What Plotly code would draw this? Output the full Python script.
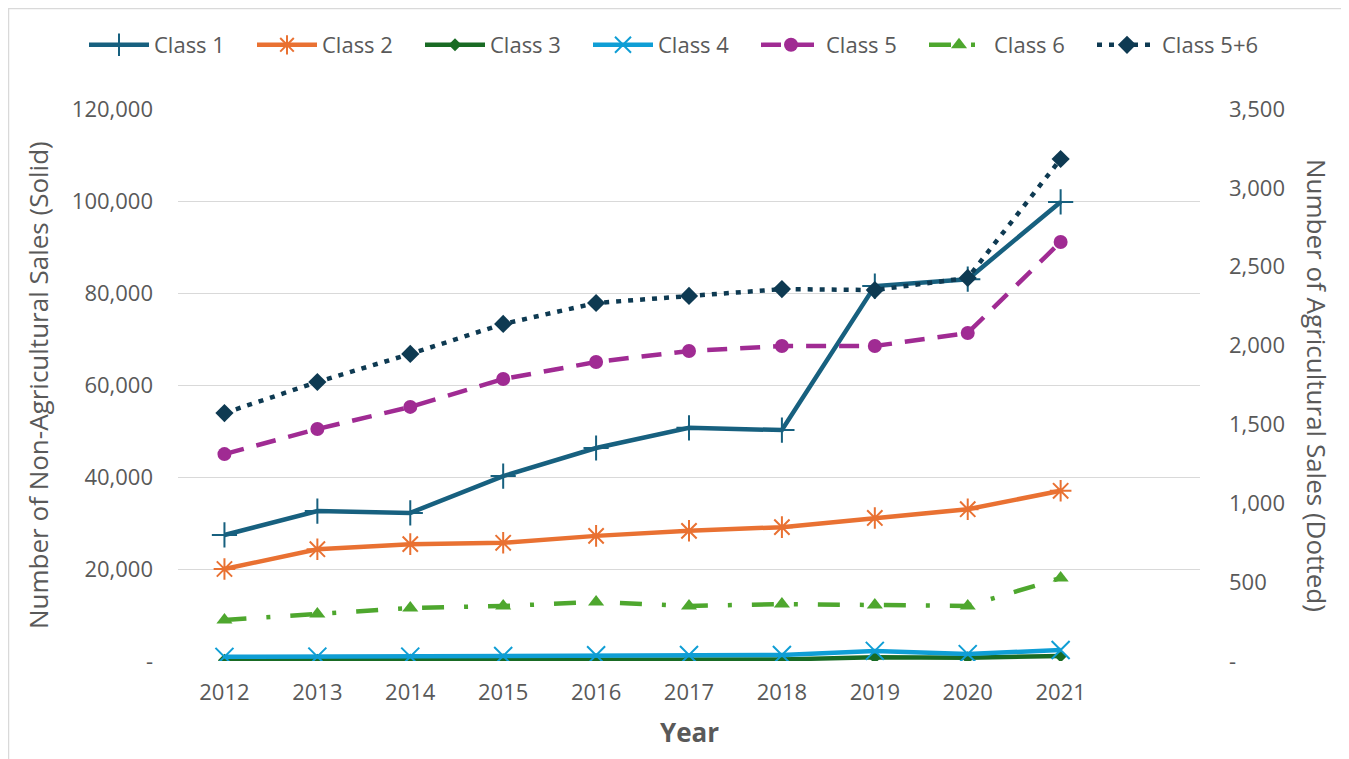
import plotly.graph_objects as go

years = [2012, 2013, 2014, 2015, 2016, 2017, 2018, 2019, 2020, 2021]
class1 = [27400, 32600, 32200, 40200, 46300, 50700, 50200, 81500, 83000, 99800]
class2 = [20000, 24300, 25400, 25700, 27200, 28300, 29100, 31100, 33000, 37000]
class3 = [150, 180, 200, 250, 280, 320, 350, 800, 700, 1100]
class4 = [900, 950, 950, 1100, 1250, 1300, 1300, 2200, 1500, 2400]
class5 = [1312, 1471, 1611, 1788, 1896, 1966, 1997, 1997, 2080, 2657]
class6 = [260, 298, 336, 349, 374, 349, 361, 355, 349, 526]
class56 = [1572, 1769, 1947, 2137, 2270, 2315, 2358, 2352, 2429, 3183]

left_ticks = [0, 20000, 40000, 60000, 80000, 100000, 120000]
left_text = ["-", "20,000", "40,000", "60,000", "80,000", "100,000", "120,000"]
right_ticks = [0, 500, 1000, 1500, 2000, 2500, 3000, 3500]
right_text = ["-", "500", "1,000", "1,500", "2,000", "2,500", "3,000", "3,500"]

FONT = "Open Sans"
GREY = "#595959"
W, H = 1341, 751
L, R, T, B = 170, 149, 101, 98
PW, PH = W - L - R, H - T - B
STEP = 168
X0 = 76

fig = go.Figure()

def add(name, y, color, symbol, size, dash="solid", yaxis="y", mline=None, width=4.5, legend="legend"):
    marker = dict(symbol=symbol, size=size, color=color)
    if mline:
        marker["line"] = dict(color=color, width=mline)
    fig.add_trace(go.Scatter(
        x=years, y=y, name=name, mode="lines+markers", yaxis=yaxis, legend=legend,
        line=dict(color=color, width=width, dash=dash), marker=marker))

add("Class 1", class1, "#17607F", "cross-thin", 18, mline=2)
add("Class 2", class2, "#E97132", "asterisk-open", 18, mline=2)
add("Class 3", class3, "#196B24", "diamond", 10)
add("Class 4", class4, "#0F9ED5", "x-thin", 18, mline=2)
add("Class 5", class5, "#A02B93", "circle", 14, dash="20px,13px", yaxis="y2", legend="legend2")
add("Class 6", class6, "#4EA72E", "triangle-up", 14, dash="22px,20px,4px,20px", yaxis="y2", legend="legend2")
add("Class 5+6", class56, "#0E3A52", "diamond", 14, dash="5px,7px", yaxis="y2", legend="legend3")

legend_common = dict(orientation="h", xref="container", yref="container",
                     xanchor="left", y=1 - 37 / H, yanchor="middle",
                     font=dict(size=22, color=GREY), itemwidth=60, tracegroupgap=0,
                     bgcolor="rgba(0,0,0,0)")

fig.update_layout(
    width=W, height=H,
    paper_bgcolor="white", plot_bgcolor="white",
    margin=dict(l=L, r=R, t=T, b=B),
    font=dict(family=FONT, color=GREY, size=22),
    showlegend=True,
    legend=dict(x=X0 / W, entrywidth=STEP - 75, entrywidthmode="pixels", **legend_common),
    legend2=dict(x=(X0 + 4 * STEP) / W, entrywidth=STEP - 75, entrywidthmode="pixels", **legend_common),
    legend3=dict(x=(X0 + 6 * STEP) / W, **legend_common),
    xaxis=dict(range=[2011.5, 2022.5], tickvals=years, ticktext=[str(y) for y in years],
               showgrid=False, zeroline=False, showline=False, ticks="",
               tickfont=dict(size=22, color=GREY), ticklabelstandoff=16),
    yaxis=dict(range=[0, 120000], tickvals=left_ticks, ticktext=left_text,
               showgrid=True, gridcolor="#D9D9D9", gridwidth=1.3, zeroline=False,
               showline=False, ticks="", tickfont=dict(size=22, color=GREY), ticklabelstandoff=24),
    yaxis2=dict(range=[0, 3500], tickvals=right_ticks, ticktext=right_text, overlaying="y",
                side="right", showgrid=False, zeroline=False, showline=False, ticks="",
                tickfont=dict(size=22, color=GREY), ticklabelstandoff=28),
)

fig.add_annotation(text="Number of Non-Agricultural Sales (Solid)", xref="paper", yref="paper",
                   x=-0.137, y=0.5, textangle=-90, showarrow=False,
                   font=dict(size=26, color=GREY), xanchor="center", yanchor="middle")
fig.add_annotation(text="Number of Agricultural Sales (Dotted)", xref="paper", yref="paper",
                   x=1.1145, y=0.5, textangle=90, showarrow=False,
                   font=dict(size=26, color=GREY), xanchor="center", yanchor="middle")
fig.add_annotation(text="<b>Year</b>", xref="paper", yref="paper",
                   x=(689 - 8 - L) / PW, y=(H - B - 724) / PH, showarrow=False,
                   font=dict(size=26, color=GREY), xanchor="center", yanchor="middle")

fig.add_shape(type="rect", xref="paper", yref="paper",
              x0=(0.5 - L) / PW, x1=(1339 - L) / PW, y0=(H - B - H - 5) / PH, y1=(H - B - 0.5) / PH,
              line=dict(color="#D9D9D9", width=1.5), layer="below")

fig.write_html("out.html")
